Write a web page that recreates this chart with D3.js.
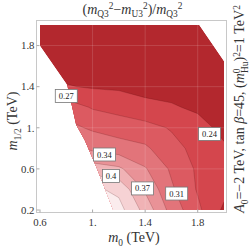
<!DOCTYPE html>
<html>
<head>
<meta charset="utf-8">
<script src="https://cdn.jsdelivr.net/npm/d3@7"></script>
<style>
  body { margin: 0; background: #fff; }
  text { font-family: "Liberation Serif", "Times New Roman", serif; fill: #333; }
</style>
</head>
<body>
<svg id="chart" width="249" height="247"></svg>
<script>
// grid of the ratio, one row per m1/2 value (bottom to top), columns are m0
var m0 = [0.6, 0.8, 1.0, 1.2, 1.4, 1.6, 1.8, 2.0];
var m12 = [0.2, 0.4, 0.6, 0.8, 1.0, 1.2, 1.4, 1.6, 1.8, 2.0];
var ratio = [
  [0.400, 0.420, 0.440, 0.445, 0.390, 0.325, 0.280, 0.235],
  [0.390, 0.415, 0.440, 0.425, 0.365, 0.310, 0.270, 0.250],
  [0.370, 0.390, 0.385, 0.375, 0.340, 0.300, 0.268, 0.255],
  [0.340, 0.350, 0.330, 0.320, 0.310, 0.285, 0.262, 0.245],
  [0.310, 0.315, 0.300, 0.290, 0.285, 0.270, 0.252, 0.233],
  [0.300, 0.290, 0.270, 0.262, 0.248, 0.244, 0.236, 0.226],
  [0.260, 0.243, 0.238, 0.236, 0.233, 0.230, 0.226, 0.222],
  [0.232, 0.228, 0.226, 0.225, 0.224, 0.222, 0.220, 0.218],
  [0.222, 0.220, 0.219, 0.218, 0.217, 0.216, 0.215, 0.214],
  [0.215, 0.214, 0.213, 0.212, 0.212, 0.211, 0.211, 0.210]
];
var levels = [0.209, 0.241, 0.273, 0.305, 0.337, 0.369, 0.401, 0.433];
var bandColors = ["#a8222a", "#b3282e", "#d4464d", "#dc5a61", "#e2747a", "#e99297", "#f0b2b5", "#f6d2d4", "#fbeced"];

// allowed region (outside of it nothing is drawn)
var regionM0 = [0.6, 1.81, 2.0, 2.0, 1.157, 1.035, 0.94, 0.875, 0.806, 0.6];
var regionM12 = [2.0, 2.0, 1.645, 0.2, 0.2, 0.6, 0.88, 1.03, 1.42, 1.8];

var labelText = ["0.27", "0.24", "0.34", "0.4", "0.37", "0.31"];
var labelM0 = [0.80, 1.89, 1.09, 1.14, 1.38, 1.64];
var labelM12 = [1.31, 0.94, 0.74, 0.53, 0.41, 0.36];

var xTicks = [0.6, 1.0, 1.4, 1.8];
var xTickLabels = ["0.6", "1.", "1.4", "1.8"];
var yTicks = [0.2, 0.6, 1.0, 1.4, 1.8];
var yTickLabels = ["0.2", "0.6", "1.", "1.4", "1.8"];

var svg = d3.select("#chart");
var x = d3.scaleLinear().domain([0.6, 2.0]).range([40, 224]);
var y = d3.scaleLinear().domain([0.2, 2.0]).range([210, 25]);

// frame
svg.append("rect")
  .attr("x", 36.5).attr("y", 20.5)
  .attr("width", 190).attr("height", 192)
  .attr("fill", "none")
  .attr("stroke", "#c8c8c8");

var regionPts = regionM0.map(function(d, i) { return [x(d), y(regionM12[i])]; });
svg.append("clipPath").attr("id", "region")
  .append("path")
  .attr("d", "M" + regionPts.join("L") + "Z");

var plot = svg.append("g").attr("clip-path", "url(#region)");

var step = m0[1] - m0[0];
var stepY = m12[1] - m12[0];
var toScreen = d3.geoTransform({
  point: function(gx, gy) {
    this.stream.point(x(m0[0] + (gx - 0.5) * step), y(m12[0] + (gy - 0.5) * stepY));
  }
});
var path = d3.geoPath(toScreen);

var values = [].concat.apply([], ratio);
var bands = d3.contours()
  .size([m0.length, m12.length])
  .thresholds(levels)(values);

plot.append("path")
  .attr("d", "M" + regionPts.join("L") + "Z")
  .attr("fill", bandColors[0]);

plot.selectAll("path.band")
  .data(bands)
  .enter()
  .append("path")
  .attr("class", "band")
  .attr("d", path)
  .attr("fill", function(d, i) { return bandColors[i + 1]; });

plot.selectAll("path.iso")
  .data(bands.slice(1))
  .enter()
  .append("path")
  .attr("class", "iso")
  .attr("d", path)
  .attr("fill", "none")
  .attr("stroke", "rgba(60,0,0,0.3)")
  .attr("stroke-width", 0.6);

// faint grid lines
xTicks.slice(1).forEach(function(t) {
  plot.append("line").attr("x1", x(t)).attr("x2", x(t)).attr("y1", 20).attr("y2", 212)
    .attr("stroke", "rgba(255,255,255,0.18)").attr("stroke-width", 0.8);
});
yTicks.slice(1).forEach(function(t) {
  plot.append("line").attr("y1", y(t)).attr("y2", y(t)).attr("x1", 36).attr("x2", 227)
    .attr("stroke", "rgba(255,255,255,0.18)").attr("stroke-width", 0.8);
});

// ticks
xTicks.forEach(function(t, i) {
  svg.append("line").attr("x1", x(t)).attr("x2", x(t)).attr("y1", 212.5).attr("y2", 209.5)
    .attr("stroke", "#aaa");
  svg.append("text").attr("x", x(t)).attr("y", 225.5)
    .attr("text-anchor", "middle").attr("font-size", 10.8).text(xTickLabels[i]);
});
yTicks.forEach(function(t, i) {
  svg.append("line").attr("x1", 36.5).attr("x2", 39.5).attr("y1", y(t)).attr("y2", y(t))
    .attr("stroke", "#aaa");
  svg.append("text").attr("x", 34.5).attr("y", y(t) + 3.8)
    .attr("text-anchor", "end").attr("font-size", 10.8).text(yTickLabels[i]);
});

// contour labels
labelText.forEach(function(t, i) {
  var g = svg.append("g").attr("transform", "translate(" + x(labelM0[i]) + "," + y(labelM12[i]) + ")");
  var w = t.length > 3 ? 22 : 17;
  g.append("rect").attr("x", -w / 2).attr("y", -6.5).attr("width", w).attr("height", 13)
    .attr("fill", "#fff").attr("stroke", "#777").attr("stroke-width", 0.8);
  g.append("text").attr("text-anchor", "middle").attr("y", 3).attr("font-size", 8.5)
    .style("fill", "#222").text(t);
});

// rich text helper: [text, kind] with kind in n, i, sub, sup
function rich(el, parts, size) {
  var shift = 0;
  parts.forEach(function(p) {
    var target = p[1] === "sub" ? size * 0.28 : p[1] === "sup" ? -size * 0.3 : 0;
    var ts = el.append("tspan").text(p[0]).attr("dy", target - shift);
    if (p[1] === "sub" || p[1] === "sup") ts.attr("font-size", size * 0.67);
    if (p[1] === "i") ts.style("font-style", "italic");
    if (p[2]) ts.attr("dx", p[2]);
    shift = target;
  });
}

var big = 14;
var title = svg.append("text").attr("x", 132.5).attr("y", 13.5)
  .attr("text-anchor", "middle").attr("font-size", big);
rich(title, [["(", "n"], ["m", "i"], ["Q3", "sub"], ["2", "sup"], ["\u2212", "n"], ["m", "i"], ["U3", "sub"],
  ["2", "sup"], [")/", "n"], ["m", "i"], ["Q3", "sub"], ["2", "sup"]], big);

var ylab = svg.append("text").attr("transform", "translate(17,121) rotate(-90)")
  .attr("text-anchor", "middle").attr("font-size", big);
rich(ylab, [["m", "i"], ["1/2", "sub"], [" (TeV)", "n"]], big);

var xlab = svg.append("text").attr("x", 134).attr("y", 242)
  .attr("text-anchor", "middle").attr("font-size", big);
rich(xlab, [["m", "i"], ["0", "sub"], [" (TeV)", "n"]], big);

var rlab = svg.append("text").attr("transform", "translate(244,109) rotate(-90)")
  .attr("text-anchor", "middle").attr("font-size", big);
rich(rlab, [["A", "i"], ["0", "sub"], ["=\u22122 TeV, tan ", "n"], ["\u03b2", "i"], ["=45, (", "n"], ["m", "i"],
  ["0", "sup"], ["Hu", "sub", -4.5], [")", "n"], ["2", "sup"], ["=1 TeV", "n"], ["2", "sup"]], big);
</script>
</body>
</html>
